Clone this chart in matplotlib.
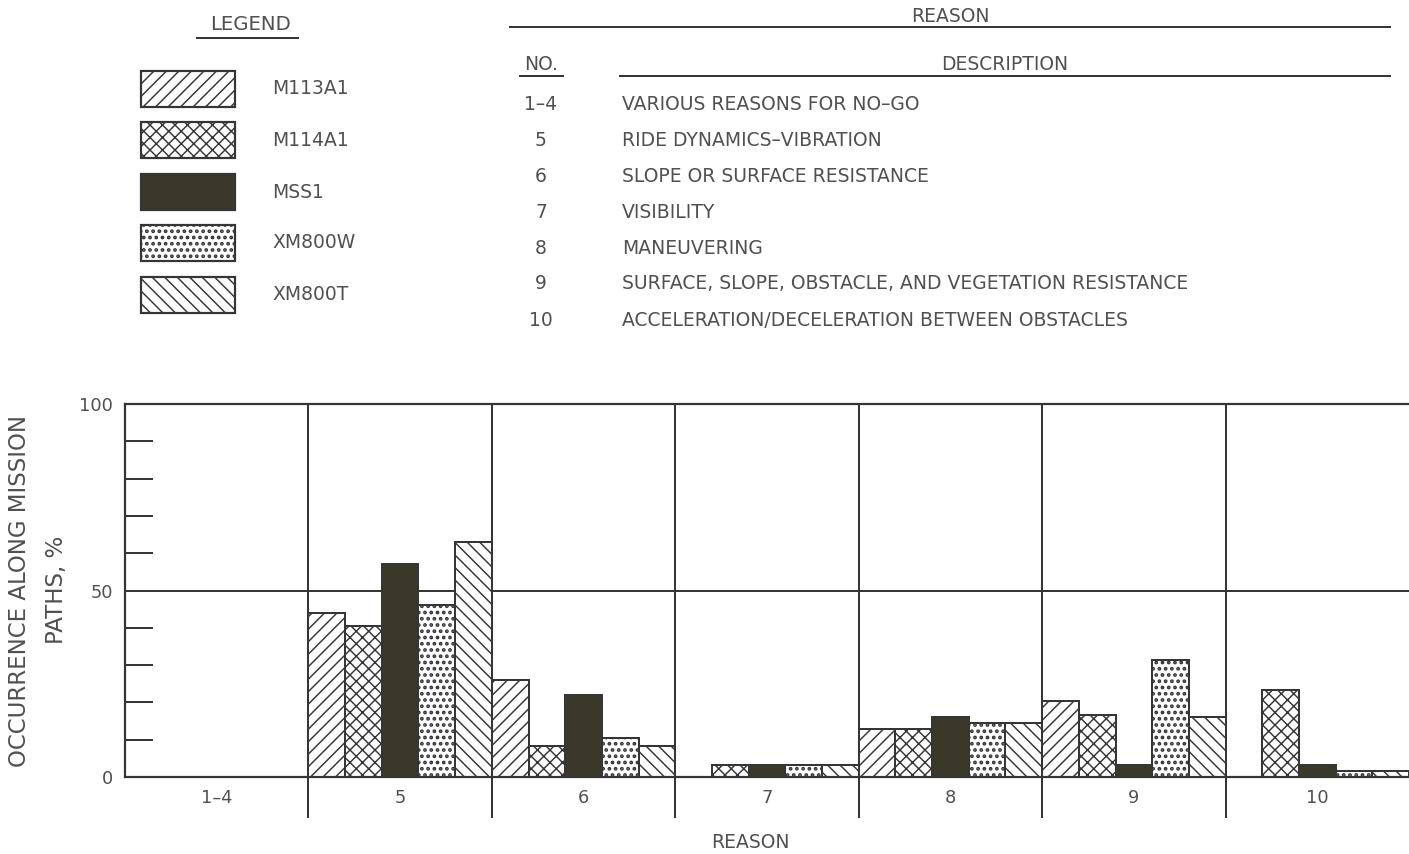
"""
NO-GO reasons along mission paths: grouped hatched bars with legend and reason table
"""

import matplotlib
matplotlib.use('Agg')
import matplotlib.pyplot as plt
from matplotlib.patches import Rectangle
from matplotlib.lines import Line2D

# data
reasons = ['1–4', '5', '6', '7', '8', '9', '10']
vehicles = ['M113A1', 'M114A1', 'MSS1', 'XM800W', 'XM800T']
m113a1 = [0, 44, 26, 0, 13, 20.5, 0]
m114a1 = [0, 40.5, 8.3, 3.3, 13, 16.5, 23.3]
mss1 = [0, 57, 22, 3.3, 16, 3.3, 3.3]
xm800w = [0, 46, 10.5, 3.3, 14.5, 31.5, 1.6]
xm800t = [0, 63, 8.3, 3.3, 14.5, 16, 1.6]
series = [m113a1, m114a1, mss1, xm800w, xm800t]

reason_nos = ['1–4', '5', '6', '7', '8', '9', '10']
reason_desc = [
    'VARIOUS REASONS FOR NO–GO',
    'RIDE DYNAMICS–VIBRATION',
    'SLOPE OR SURFACE RESISTANCE',
    'VISIBILITY',
    'MANEUVERING',
    'SURFACE, SLOPE, OBSTACLE, AND VEGETATION RESISTANCE',
    'ACCELERATION/DECELERATION BETWEEN OBSTACLES',
]

# styles
hatches = ['//', 'xx', None, '..', '\\\\']
hatch_lw = [1.4, 1.4, 1.4, 2.4, 1.4]
fills = ['white', 'white', '#3a3828', 'white', 'white']
LINE = '#353535'
TEXT = '#505050'

W, H, DPI = 1409, 854, 75
plt.rcParams['font.family'] = ['DejaVu Sans']
plt.rcParams['hatch.linewidth'] = 1.4
plt.rcParams['hatch.color'] = LINE


def fx(x):
    return x / W


def fy(y):
    return 1 - y / H


def px(p):
    # pixel length -> points
    return p * 72 / DPI


def set_hlw(patch, lw):
    # per-patch hatch width (newer matplotlib only)
    if hasattr(patch, 'set_hatch_linewidth'):
        patch.set_hatch_linewidth(lw)


fig = plt.figure(figsize=(W / DPI, H / DPI), dpi=DPI)
fig.patch.set_facecolor('white')

# ---------------- legend block ----------------
fig.text(fx(250), fy(25), 'LEGEND', ha='center', va='center', fontsize=19, color=TEXT)
fig.add_artist(Line2D([fx(197), fx(298)], [fy(38), fy(38)], color=LINE, lw=px(2)))

box_tops = [71, 122, 174, 225, 277]
box_h = 36
for name, top, hatch, fc, hlw in zip(vehicles, box_tops, hatches, fills, hatch_lw):
    r = Rectangle((fx(141), fy(top + box_h)), fx(235) - fx(141), box_h / H,
                  transform=fig.transFigure, facecolor=fc, edgecolor=LINE,
                  hatch=hatch, lw=px(2.2))
    set_hlw(r, hlw)
    fig.add_artist(r)
    fig.text(fx(272), fy(top + box_h / 2), name, ha='left', va='center',
             fontsize=18, color=TEXT)

# ---------------- reason table ----------------
fig.text(fx(950), fy(17), 'REASON', ha='center', va='center', fontsize=18, color=TEXT)
fig.add_artist(Line2D([fx(510), fx(1390)], [fy(27), fy(27)], color=LINE, lw=px(2)))
fig.text(fx(541), fy(65), 'NO.', ha='center', va='center', fontsize=18, color=TEXT)
fig.add_artist(Line2D([fx(520), fx(563)], [fy(76), fy(76)], color=LINE, lw=px(2)))
fig.text(fx(1005), fy(64), 'DESCRIPTION', ha='center', va='center', fontsize=18, color=TEXT)
fig.add_artist(Line2D([fx(620), fx(1390)], [fy(76), fy(76)], color=LINE, lw=px(2)))

row_y = [104, 140, 176, 212, 248, 284, 321]
for no, desc, y in zip(reason_nos, reason_desc, row_y):
    fig.text(fx(541), fy(y), no, ha='center', va='center', fontsize=18, color=TEXT)
    fig.text(fx(622), fy(y), desc, ha='left', va='center', fontsize=18, color=TEXT)

# ---------------- bar chart ----------------
ax = fig.add_axes([fx(125), fy(777), 1 - fx(125), (777 - 404) / H])
ax.set_xlim(0, len(reasons))
ax.set_ylim(0, 100)

bw = 1 / len(vehicles)
for j, (vals, hatch, fc, hlw) in enumerate(zip(series, hatches, fills, hatch_lw)):
    xs = [i + j * bw for i in range(len(reasons))]
    bars = ax.bar(xs, vals, width=bw, align='edge', facecolor=fc, edgecolor=LINE,
                  hatch=hatch, linewidth=px(2), zorder=2)
    for b in bars:
        set_hlw(b, hlw)

# 50 % line and group separators
ax.axhline(50, color=LINE, lw=px(2), zorder=1)
ax.vlines(range(1, len(reasons)), -11, 100, color=LINE, lw=px(2),
          clip_on=False, zorder=3)

for s in ['left', 'bottom', 'top']:
    ax.spines[s].set_linewidth(px(2.2))
    ax.spines[s].set_color(LINE)
    ax.spines[s].set_zorder(4)
ax.spines['right'].set_visible(False)

ax.set_xticks([])
ax.set_yticks([0, 50, 100])
ax.set_yticklabels(['0', '50', '100'], fontsize=17, color=TEXT)
ax.tick_params(axis='y', which='major', length=0, pad=px(12))
ax.set_yticks([10, 20, 30, 40, 60, 70, 80, 90], minor=True)
ax.tick_params(axis='y', which='minor', direction='in', length=px(28),
               width=px(2), color=LINE)

for i, lab in enumerate(reasons):
    ax.text(i + 0.5, -5.5, lab, ha='center', va='center', fontsize=17, color=TEXT,
            clip_on=False)

fig.text(fx(750), fy(843), 'REASON', ha='center', va='center', fontsize=18, color=TEXT)
fig.text(fx(20), fy(591), 'OCCURRENCE ALONG MISSION', rotation=90, ha='center',
         va='center', fontsize=22, color=TEXT)
fig.text(fx(57), fy(590), 'PATHS, %', rotation=90, ha='center', va='center',
         fontsize=22, color=TEXT)

fig.savefig('out.png', dpi=DPI, facecolor='white')
